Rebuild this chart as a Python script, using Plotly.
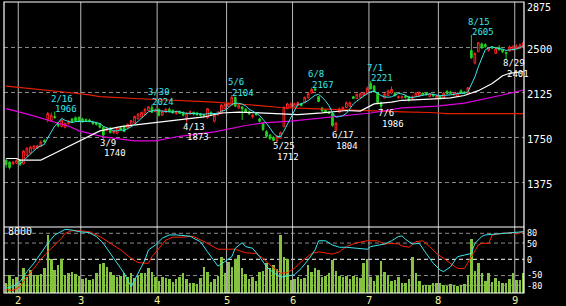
import plotly.graph_objects as go
import pandas as pd

# ---------------- data (trading-day index 0 = Jan 26 ... 149 = Sep 5) ----------------
month_labels = ["2", "3", "4", "5", "6", "7", "8", "9"]
month_start_idx = [4, 22, 44, 64, 83, 105, 125, 147]

opens = [1560,1545,1530,1537,1562,1530,1600,1620,1655,1660,
         1675,1725,1900,1890,1925,1870,1842,1835,1865,1905,
         1915,1918,1905,1900,1895,1880,1870,1865,1835,1810,
         1830,1790,1785,1830,1845,1830,1850,1870,1905,1920,
         1940,1975,2000,1965,1985,1935,1960,1985,1975,1950,
         1965,1960,1915,1945,1960,1955,1945,1940,1915,1960,
         1885,1940,1950,1990,2010,2020,2085,1995,2005,1985,
         1965,1925,1955,1905,1870,1800,1770,1750,1725,1745,
         1840,1990,2005,2005,2015,2030,2040,2080,2120,2155,
         2090,1995,1975,1960,1950,1815,1960,1980,2000,2010,
         2090,2075,2085,2100,2115,2200,2180,2120,2040,2080,
         2100,2120,2120,2080,2080,2095,2090,2075,2090,2095,
         2120,2125,2090,2110,2080,2095,2085,2135,2130,2105,
         2095,2140,2130,2115,2475,2370,2465,2530,2525,2475,
         2505,2450,2500,2480,2460,2470,2480,2490,2495,2500]
highs = [1570,1550,1555,1565,1570,1645,1670,1680,1685,1690,
         1725,1735,1962,1958,1966,1880,1900,1875,1895,1912,
         1925,1925,1915,1908,1905,1890,1880,1870,1840,1835,
         1835,1815,1835,1840,1850,1865,1895,1930,1950,1965,
         1995,2010,2024,1990,1990,1975,1995,2000,1985,1975,
         1975,1965,1960,1975,1965,1960,1955,1945,1995,1965,
         1940,1970,2030,2035,2040,2104,2090,2030,2010,1995,
         1975,1945,1960,1915,1875,1810,1780,1760,1770,1800,
         2010,2040,2045,2040,2050,2040,2090,2125,2167,2165,
         2095,2005,1985,1970,1960,1880,2000,2010,2050,2050,
         2095,2115,2125,2130,2175,2221,2185,2125,2050,2120,
         2150,2175,2130,2100,2100,2105,2095,2100,2130,2135,
         2125,2130,2120,2115,2105,2100,2130,2145,2140,2130,
         2125,2150,2135,2170,2605,2460,2545,2540,2535,2500,
         2510,2495,2520,2490,2465,2515,2520,2525,2535,2550]
lows = [1500,1485,1520,1530,1515,1525,1590,1610,1650,1655,
        1670,1705,1875,1880,1905,1835,1835,1825,1860,1870,
        1880,1880,1875,1880,1875,1855,1850,1825,1740,1800,
        1785,1780,1775,1805,1795,1825,1845,1865,1900,1915,
        1935,1970,1955,1960,1925,1930,1955,1960,1950,1940,
        1945,1925,1873,1940,1935,1930,1925,1920,1905,1930,
        1875,1930,1945,1985,2005,2015,2005,1990,1895,1955,
        1940,1910,1930,1875,1805,1750,1730,1720,1712,1740,
        1835,1985,1995,2000,2010,2010,2035,2075,2115,2140,
        2045,1965,1955,1945,1840,1804,1955,1975,1995,2005,
        2070,2070,2080,2095,2110,2150,2125,2030,1986,2075,
        2095,2110,2090,2075,2075,2075,2050,2065,2085,2090,
        2100,2100,2085,2090,2070,2065,2080,2110,2110,2100,
        2090,2115,2110,2110,2405,2360,2460,2490,2500,2465,
        2490,2445,2475,2455,2401,2465,2475,2485,2490,2495]
closes = [1525,1500,1545,1560,1522,1637,1660,1670,1680,1680,
          1712,1715,1950,1935,1915,1850,1895,1868,1885,1875,
          1890,1885,1880,1888,1885,1865,1860,1835,1770,1830,
          1790,1805,1830,1815,1800,1860,1890,1925,1945,1960,
          1985,2005,1960,1980,1935,1965,1985,1965,1955,1965,
          1950,1935,1950,1965,1945,1940,1935,1930,1990,1940,
          1935,1960,2020,2025,2035,2085,2010,2020,1990,1960,
          1945,1935,1940,1885,1815,1760,1740,1725,1760,1790,
          2000,2030,2030,2030,2040,2015,2085,2115,2150,2145,
          2050,1970,1960,1950,1850,1870,1990,2000,2040,2040,
          2075,2110,2115,2120,2160,2155,2130,2040,2010,2110,
          2135,2150,2100,2090,2090,2085,2060,2090,2120,2125,
          2105,2105,2115,2095,2100,2075,2120,2115,2115,2120,
          2120,2120,2120,2165,2415,2450,2540,2495,2505,2495,
          2495,2490,2480,2465,2450,2505,2505,2510,2520,2540]
volume = [1290,2400,1870,2170,1380,3290,2170,3070,2400,2400,
          2530,3290,7730,4620,3070,3730,4490,2400,2710,2840,
          2530,2270,1820,1960,1730,1820,2620,3820,3960,3510,
          2840,2400,2100,2270,2710,2100,2710,1960,2270,2620,
          2710,3290,2840,2170,1600,2170,2040,1820,1510,1820,
          2170,2620,1820,1380,1380,1240,1960,3510,2840,1510,
          1820,2270,4840,2620,4180,3510,4490,5070,3290,2530,
          1820,2100,1600,2840,2980,4040,3290,3730,3150,7730,
          4840,4490,1730,1820,2100,1820,1960,3730,2840,3290,
          3070,2100,2270,2710,4400,2980,2270,2170,2270,1820,
          2270,2100,1960,3960,4620,2170,1600,2270,4310,2840,
          2400,1600,1730,2100,1380,1380,1820,4840,2620,1640,
          1110,1020,1110,1380,1290,1380,1020,930,1240,1110,
          930,1020,1240,2400,7290,2980,3960,2620,1600,2620,
          1510,1960,1600,1290,1380,1820,2710,1730,1730,2710]

# moving averages (sample positions)
ma_white_idx = [0,3,4,10,13,17,21,24,27,33,42,53,57,62,67,73,79,84,91,98,102,106,111,114,122,128,132,136,140,143,145,149]
ma_white_val = [1575,1575,1562,1562,1604,1660,1715,1760,1805,1840,1872,1905,1921,1954,1962,1955,1945,1940,1955,1975,1970,2030,2045,2060,2070,2080,2100,2140,2200,2265,2285,2300]
ma_mag_idx = [0,8,13,18,21,25,28,37,43,50,60,69,74,82,93,105,114,124,132,139,143,149]
ma_mag_val = [1990,1930,1885,1845,1805,1775,1755,1722,1722,1760,1796,1850,1871,1887,1921,1954,1996,2012,2037,2079,2104,2146]
ma_red_idx = [0,8,18,24,27,37,46,53,60,69,74,79,88,96,105,114,122,127,149]
ma_red_val = [2178,2157,2125,2105,2090,2075,2062,2055,2045,2025,2012,2000,1990,1980,1968,1963,1958,1948,1948]

# oscillators (bottom panel)
osc_cyan_idx = [0,2,4,6,8,10,12,14,16,17,19,21,24,26,28,30,32,34,36,38,40,41,43,45,47,49,51,53,54,56,58,60,61,63,65,66,68,69,71,73,75,77,79,81,83,85,87,89,90,92,94,96,98,101,104,105,107,109,111,113,114,115,117,119,121,123,125,126,128,130,132,134,135,137,138,141,145,147,149]
osc_cyan_val = [-89,-84,-69,-38,-12,18,49,75,88,92,90,85,82,70,49,18,-12,-43,-84,-43,-2,29,44,65,75,75,72,71,65,54,23,-7,-21,-7,8,34,51,39,34,8,-23,-41,-55,-51,-48,-28,-2,29,57,57,44,37,37,34,31,39,44,47,57,70,72,62,47,49,18,-12,-33,-38,-23,8,13,18,49,70,75,78,82,85,85]
osc_red_idx = [0,2,4,6,8,10,12,14,16,17,19,21,24,27,30,33,36,38,40,41,42,44,46,48,51,53,54,58,61,64,66,69,72,74,76,78,79,81,83,85,87,88,90,92,94,96,98,101,104,107,109,111,113,114,116,118,120,122,124,126,128,130,132,134,136,137,139,140,143,146,147,149]
osc_red_val = [-94,-96,-84,-53,-28,0,23,44,65,80,88,88,85,70,49,29,3,-10,-12,-12,8,34,59,68,68,71,70,49,31,31,31,20,18,3,-18,-33,-43,-41,-28,-7,10,18,23,20,16,23,39,51,57,57,47,49,47,41,37,54,57,39,18,3,-12,-28,-28,8,44,49,49,75,80,82,78,85]

# high / low labels
hl_idx = [14, 28, 42, 52, 65, 78, 88, 95, 105, 108, 134, 144]
hl_date = ["2/16", "3/9", "3/30", "4/13", "5/6", "5/25", "6/8", "6/17", "7/1", "7/6", "8/15", "8/29"]
hl_kind = ["H", "L", "H", "L", "H", "L", "H", "L", "H", "L", "H", "L"]

price_ticks = [2875, 2500, 2125, 1750, 1375]
price_grid = [2500, 2125, 1750, 1375]
osc_ticks = [80, 50, 0, -50, -80]
vol_label = 8000

# ---------------- figure ----------------
FONT = "DejaVu Sans Mono"
CYAN = "#38e6ee"
idx = list(range(len(closes)))
d = 66 / 291

fig = go.Figure()
fig.add_trace(go.Bar(x=idx, y=volume, width=0.72, marker=dict(color="#84c23f", line=dict(width=0)),
                     xaxis="x", yaxis="y2", hoverinfo="skip"))
fig.add_trace(go.Scatter(x=osc_red_idx, y=osc_red_val, mode="lines", line=dict(color="#ff2200", width=1),
                         xaxis="x", yaxis="y3"))
fig.add_trace(go.Scatter(x=osc_cyan_idx, y=osc_cyan_val, mode="lines", line=dict(color=CYAN, width=1),
                         xaxis="x", yaxis="y3"))

fig.add_trace(go.Scatter(x=ma_red_idx, y=ma_red_val, mode="lines", line=dict(color="#e82000", width=1.2),
                         xaxis="x", yaxis="y"))
fig.add_trace(go.Scatter(x=ma_mag_idx, y=ma_mag_val, mode="lines", line=dict(color="#e000e0", width=1.2),
                         xaxis="x", yaxis="y"))
fig.add_trace(go.Candlestick(x=idx, open=opens, high=highs, low=lows, close=closes,
                             increasing=dict(line=dict(color="#ff2424", width=1), fillcolor="black"),
                             decreasing=dict(line=dict(color="#22d022", width=1), fillcolor="#22d022"),
                             whiskerwidth=0, xaxis="x", yaxis="y", hoverinfo="skip"))
fig.add_trace(go.Scatter(x=ma_white_idx, y=ma_white_val, mode="lines", line=dict(color="white", width=1.2),
                         xaxis="x", yaxis="y"))
ma5 = pd.Series(closes).rolling(5).mean()
fig.add_trace(go.Scatter(x=idx, y=ma5, mode="lines", line=dict(color=CYAN, width=1),
                         xaxis="x", yaxis="y"))

shapes = []
for v in price_grid:
    shapes.append(dict(type="line", xref="paper", x0=0, x1=1, yref="y", y0=v, y1=v, layer="below",
                       line=dict(color="#8a8a8a", width=1, dash="4px,3px")))
for v in [80, 50, -50, -80]:
    shapes.append(dict(type="line", xref="paper", x0=0, x1=1, yref="y3", y0=v, y1=v, layer="below",
                       line=dict(color="#8a8a8a", width=1, dash="4px,3px")))
shapes.append(dict(type="line", xref="paper", x0=0, x1=1, yref="y3", y0=0, y1=0, layer="below",
                   line=dict(color="white", width=1, dash="4px,3px")))
for m in month_start_idx:
    shapes.append(dict(type="line", xref="x", x0=m - 0.5, x1=m - 0.5, yref="paper", y0=0, y1=1, layer="below",
                       line=dict(color="#b8b8b8", width=1)))
shapes.append(dict(type="rect", xref="paper", x0=0, x1=1, yref="paper", y0=0, y1=1, layer="above",
                   line=dict(color="white", width=1.2)))
shapes.append(dict(type="line", xref="paper", x0=0, x1=1, yref="paper", y0=d, y1=d, layer="above",
                   line=dict(color="white", width=1.2)))

ann = []
for v in price_ticks:
    if v == price_ticks[0]:
        ann.append(dict(xref="paper", x=1, xanchor="left", xshift=2, yref="paper", y=1, yanchor="top", yshift=1.5,
                        text=str(v), showarrow=False, borderpad=0, font=dict(family=FONT, size=10, color="white")))
    else:
        ann.append(dict(xref="paper", x=1, xanchor="left", xshift=2, yref="y", y=v, yanchor="middle", yshift=-2,
                        text=str(v), showarrow=False, borderpad=0, font=dict(family=FONT, size=10.5, color="white")))
osc_shift = {80: 0.5, 50: -0.5, 0: -0.5, -50: 0.5, -80: -0.5}
for v in osc_ticks:
    ann.append(dict(xref="paper", x=1, xanchor="left", xshift=2, yref="y3", y=v, yanchor="middle",
                    yshift=osc_shift[v],
                    text=str(v), showarrow=False, borderpad=0, font=dict(family=FONT, size=8.5, color="white")))
ann.append(dict(xref="paper", x=0, xanchor="left", xshift=3, yref="y2", y=vol_label, yanchor="middle", yshift=2,
                text=str(vol_label), showarrow=False, borderpad=0, font=dict(family=FONT, size=10, color="white")))
for m, lab in zip(month_start_idx, month_labels):
    ann.append(dict(xref="x", x=m - 0.5, xanchor="center", yref="paper", y=0, yanchor="top", yshift=0,
                    text=lab, showarrow=False, borderpad=0, font=dict(family=FONT, size=10.5, color="#f4f0a0")))
for i, dt, k in zip(hl_idx, hl_date, hl_kind):
    if k == "H":
        val, col, ys_d, ys_v = highs[i], CYAN, 13, 2.5
    else:
        val, col, ys_d, ys_v = lows[i], "white", -4, -14.5
    ann.append(dict(xref="x", x=i, xanchor="left", xshift=-4.5, yref="y", y=val, yanchor="middle", yshift=ys_d,
                    text=dt, showarrow=False, borderpad=0, font=dict(family=FONT, size=9, color=col)))
    ann.append(dict(xref="x", x=i, xanchor="left", xshift=-0.5, yref="y", y=val, yanchor="middle", yshift=ys_v,
                    text=str(val), showarrow=False, borderpad=0, font=dict(family=FONT, size=9, color=col)))

fig.update_layout(
    width=566, height=306, margin=dict(l=4, r=42, t=2, b=13),
    paper_bgcolor="black", plot_bgcolor="black", showlegend=False,
    xaxis=dict(range=[-0.608, 149.16], showgrid=False, zeroline=False, showticklabels=False, ticks="",
               rangeslider=dict(visible=False), anchor="y2", fixedrange=True, showline=False),
    yaxis=dict(domain=[d, 1], range=[1004, 2879], showgrid=False, zeroline=False, showticklabels=False,
               ticks="", anchor="x", fixedrange=True),
    yaxis2=dict(domain=[0, d], range=[0, 8844], showgrid=False, zeroline=False, showticklabels=False,
                ticks="", anchor="x", fixedrange=True),
    yaxis3=dict(overlaying="y2", range=[-103.7, 99.4], showgrid=False, zeroline=False, showticklabels=False,
                ticks="", anchor="x", fixedrange=True),
    shapes=shapes, annotations=ann, bargap=0,
)

fig.write_html("out.html")
